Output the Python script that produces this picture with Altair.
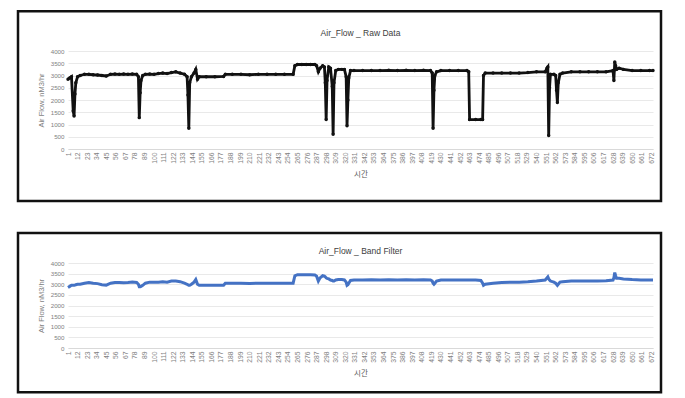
import altair as alt
import pandas as pd

idx = [
    1, 3, 5, 7, 8, 9, 10, 12, 15, 20,
    25, 30, 35, 40, 45, 50, 55, 60, 65, 70,
    75, 80, 82, 83, 84, 85, 87, 90, 95, 100,
    105, 110, 115, 120, 125, 130, 135, 138, 139, 140,
    141, 143, 146, 148, 150, 152, 160, 170, 180, 182,
    190, 200, 210, 220, 230, 240, 250, 260, 262, 265,
    270, 275, 280, 285, 287, 289, 291, 294, 296, 297,
    298, 299, 301, 303, 305, 306, 307, 309, 312, 316,
    319, 321, 322, 323, 324, 326, 330, 340, 350, 360,
    370, 380, 390, 400, 410, 418, 420, 421, 422, 423,
    425, 430, 440, 450, 460, 462, 463, 470, 476, 478,
    479, 481, 490, 500, 510, 520, 530, 540, 550, 552,
    553, 554, 555, 556, 560, 562, 563, 564, 565, 567,
    570, 580, 590, 600, 610, 620, 628, 629, 630, 631,
    632, 635, 640, 650, 660, 670, 674,
]

raw_values = [
    2850, 2900, 2950, 1550, 1350, 2250, 2700, 2950, 3000, 3050,
    3050, 3030, 3020, 3000, 2980, 3050, 3060, 3050, 3060, 3050,
    3060, 3050, 2950, 1280, 2300, 2800, 3000, 3050, 3060, 3050,
    3080, 3100, 3080, 3120, 3150, 3100, 3050, 2950, 2200, 850,
    2700, 2950, 3100, 3250, 2850, 2950, 2950, 2950, 2960, 3050,
    3050, 3050, 3030, 3050, 3050, 3050, 3050, 3050, 3400, 3450,
    3450, 3450, 3450, 3450, 3400, 3150, 3300, 3400, 3350, 2700,
    1200, 2800, 3350, 3300, 2550, 600, 2700, 3200, 3250, 3250,
    3250, 2950, 950, 2000, 2900, 3200, 3200, 3200, 3200, 3200,
    3210, 3200, 3210, 3200, 3210, 3200, 3100, 850, 2400, 3000,
    3150, 3200, 3200, 3200, 3200, 3150, 1200, 1200, 1200, 1200,
    3000, 3100, 3100, 3100, 3100, 3100, 3120, 3150, 3150, 3300,
    3350, 550, 2500, 3050, 3050, 3000, 2400, 1900, 2700, 3050,
    3100, 3150, 3150, 3150, 3150, 3150, 3200, 2800, 3550, 3400,
    3250, 3300, 3250, 3200, 3200, 3200, 3200,
]

filtered_values = [
    2850, 2900, 2950, 2950, 2950, 2960, 2980, 3000, 3000, 3050,
    3080, 3050, 3030, 2980, 2960, 3050, 3080, 3080, 3070, 3080,
    3100, 3080, 3000, 2880, 2880, 2900, 2950, 3050, 3100, 3100,
    3100, 3120, 3100, 3150, 3150, 3120, 3050, 3000, 2980, 2950,
    2950, 3000, 3100, 3220, 3000, 2950, 2950, 2950, 2950, 3050,
    3050, 3050, 3040, 3050, 3050, 3050, 3050, 3050, 3400, 3450,
    3450, 3450, 3450, 3440, 3380, 3150, 3300, 3400, 3380, 3350,
    3300, 3280, 3250, 3200, 3180, 3150, 3150, 3200, 3220, 3220,
    3200, 3100, 2950, 2980, 3050, 3180, 3200, 3200, 3210, 3200,
    3210, 3200, 3210, 3200, 3210, 3200, 3150, 3050, 3000, 3050,
    3150, 3200, 3200, 3200, 3200, 3200, 3200, 3200, 3180, 3050,
    2950, 3000, 3050, 3080, 3100, 3100, 3120, 3150, 3200, 3300,
    3350, 3250, 3200, 3150, 3100, 3050, 3000, 2950, 3000, 3100,
    3120, 3150, 3150, 3150, 3150, 3160, 3200, 3300, 3550, 3400,
    3280, 3280, 3250, 3220, 3200, 3200, 3200,
]

x_tick_labels = [
    1, 12, 23, 34, 45, 56, 67, 78, 89, 100, 111, 122, 133, 144, 155, 166,
    177, 188, 199, 210, 221, 232, 243, 254, 265, 276, 287, 298, 309, 320,
    331, 342, 353, 364, 375, 386, 397, 408, 419, 430, 441, 452, 463, 474,
    485, 496, 507, 518, 529, 540, 551, 562, 573, 584, 595, 606, 617, 628,
    639, 650, 661, 672,
]
y_tick_labels = [0, 500, 1000, 1500, 2000, 2500, 3000, 3500, 4000]

titles = ["Air_Flow _ Raw Data", "Air_Flow _ Band Filter"]
x_title = "시간"
y_title = "Air Flow, nM3/hr"

df = pd.DataFrame({"t": idx, "raw": raw_values, "filtered": filtered_values})
one = pd.DataFrame({"k": [0]})

W = 585
FONT = "Liberation Sans"
KFONT = "Noto Sans CJK KR"


def panel(field, color, title, h, frame_top, frame_bottom, title_y, with_points):
    x = alt.X(
        "t:Q",
        scale=alt.Scale(domain=[1, 674], nice=False, zero=False),
        axis=alt.Axis(
            values=x_tick_labels, labelAngle=270, title=x_title, format="d",
            titleFont=KFONT, titleFontSize=7.5, titleFontWeight="normal",
            titleColor="#595959", titlePadding=7, labelPadding=3,
            labelFontSize=6.8, labelColor="#7f7f7f", labelFont=FONT,
            ticks=False, domainColor="#d9d9d9", grid=False,
            labelOverlap=False, labelFlush=False,
        ),
    )
    y = alt.Y(
        f"{field}:Q",
        scale=alt.Scale(domain=[0, 4000], nice=False),
        axis=alt.Axis(
            values=y_tick_labels, title=y_title, titleFont=FONT, format="d",
            titleFontSize=7.5, titleFontWeight="normal", titleColor="#7f7f7f",
            titlePadding=5, labelPadding=4, labelFontSize=6.2,
            labelColor="#7f7f7f", labelFont=FONT, ticks=False, domain=False,
            grid=True, gridColor="#e3e3e3", gridWidth=0.8,
        ),
    )
    if with_points:
        line = alt.Chart(df).mark_line(
            color=color, strokeWidth=2.8,
            point=alt.OverlayMarkDef(color=color, size=12, filled=True),
        ).encode(x=x, y=y)
    else:
        line = alt.Chart(df).mark_line(color=color, strokeWidth=3).encode(x=x, y=y)

    frame = alt.Chart(one).mark_rect(
        filled=False, stroke="#111111", strokeWidth=2.5
    ).encode(
        x=alt.value(-50), x2=alt.value(593),
        y=alt.value(frame_top), y2=alt.value(frame_bottom),
    )
    ttl = alt.Chart(one).mark_text(
        text=title, font=FONT, fontSize=8.5, color="#404040",
        align="center", baseline="middle",
    ).encode(x=alt.value(W / 2), y=alt.value(title_y))
    return alt.layer(frame, ttl, line).properties(width=W, height=h)


top = panel("raw", "#111111", titles[0], 98, -39.7, 150, -17.7, True)
bottom = panel("filtered", "#4472C4", titles[1], 85, -30, 129.3, -11.7, False)

chart = alt.vconcat(top, bottom, spacing=28).configure(
    padding={"top": 2, "left": 8, "right": 2, "bottom": 2}
).configure_view(stroke=None)

chart.save("out.html", embed_options={"renderer": "svg", "actions": False})
